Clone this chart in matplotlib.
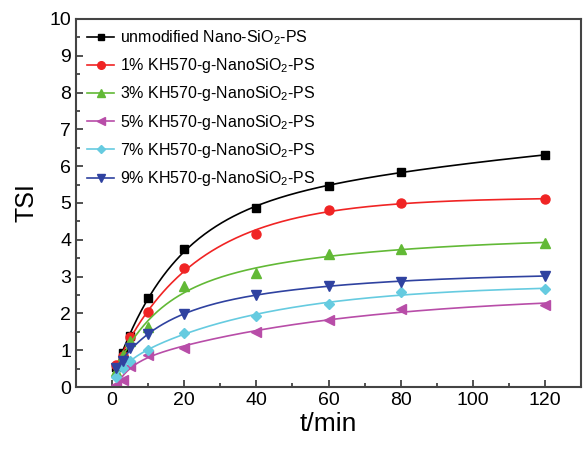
import numpy as np
import matplotlib
matplotlib.use('Agg')
import matplotlib.pyplot as plt
from matplotlib.ticker import MultipleLocator

plt.rcParams['font.family'] = ['Liberation Sans', 'DejaVu Sans']
plt.rcParams['mathtext.fontset'] = 'custom'
plt.rcParams['mathtext.rm'] = 'Liberation Sans'

t = np.array([1, 3, 5, 10, 20, 40, 60, 80, 120])

unmod = [0.55, 0.93, 1.38, 2.41, 3.75, 4.87, 5.47, 5.85, 6.30]
kh1 = [0.60, 0.85, 1.37, 2.03, 3.23, 4.17, 4.81, 5.00, 5.10]
kh3 = [0.44, 0.87, 1.25, 1.62, 2.74, 3.10, 3.61, 3.75, 3.91]
kh5 = [0.05, 0.19, 0.57, 0.86, 1.06, 1.49, 1.83, 2.12, 2.23]
kh7 = [0.27, 0.52, 0.71, 1.00, 1.47, 1.94, 2.26, 2.57, 2.66]
kh9 = [0.52, 0.70, 1.06, 1.43, 1.98, 2.50, 2.75, 2.86, 3.02]

labels = ['unmodified Nano-SiO$_2$-PS',
          '1% KH570-g-NanoSiO$_2$-PS',
          '3% KH570-g-NanoSiO$_2$-PS',
          '5% KH570-g-NanoSiO$_2$-PS',
          '7% KH570-g-NanoSiO$_2$-PS',
          '9% KH570-g-NanoSiO$_2$-PS']
series = [unmod, kh1, kh3, kh5, kh7, kh9]
colors = ['#000000', '#f02424', '#62b936', '#b84da8', '#66cbe0', '#2f42a0']
markers = ['s', 'o', '^', '<', 'D', 'v']
msizes = [5.5, 6.5, 6.5, 6.5, 5.5, 6.5]


def exp2_fit(x, y):
    # y = c0 + c1*(1-exp(-x/t1)) + c2*(1-exp(-x/t2)), grid over t1, t2
    best = None
    for t1 in np.linspace(1, 30, 60):
        for t2 in np.linspace(20, 300, 60):
            M = np.column_stack([np.ones(len(x)), 1 - np.exp(-x / t1),
                                 1 - np.exp(-x / t2)])
            coef = np.linalg.lstsq(M, y, rcond=None)[0]
            err = np.sum((M @ coef - y) ** 2)
            if best is None or err < best[0]:
                best = (err, t1, t2, coef)
    _, t1, t2, c = best
    return lambda z: c[0] + c[1] * (1 - np.exp(-z / t1)) + c[2] * (1 - np.exp(-z / t2))


fig, ax = plt.subplots(figsize=(5.84, 4.5), dpi=100)
fig.subplots_adjust(left=0.130, right=0.995, top=0.958, bottom=0.14)

tt = np.linspace(1, 120, 300)
for y, c, m, ms, lab in zip(series, colors, markers, msizes, labels):
    y = np.array(y)
    f = exp2_fit(t, y)
    yy = np.clip(f(tt), 0, None)
    ax.plot(tt, yy, color=c, lw=1.2)
    ax.plot(t, y, ls='none', marker=m, color=c, ms=ms)
    ax.plot([], [], color=c, marker=m, ms=ms - 1, lw=1.2, label=lab)

ax.set_xlim(-10, 130)
ax.set_ylim(0, 10)
ax.xaxis.set_major_locator(MultipleLocator(20))
ax.xaxis.set_minor_locator(MultipleLocator(10))
ax.yaxis.set_major_locator(MultipleLocator(1))
ax.yaxis.set_minor_locator(MultipleLocator(0.5))
ax.tick_params(which='both', direction='in', labelsize=14, color='#333333')
ax.tick_params(which='major', length=5, width=1.2)
ax.tick_params(which='minor', length=3, width=1.2)
for s in ax.spines.values():
    s.set_linewidth(1.5)
    s.set_color('#444444')

ax.set_xlabel('t/min', fontsize=19, labelpad=2)
ax.set_ylabel('TSI', fontsize=18, labelpad=8)

ax.legend(loc='upper left', bbox_to_anchor=(0.0, 1.005), frameon=False,
          fontsize=11.5, handlelength=1.7, handletextpad=0.35,
          labelspacing=0.58, borderaxespad=0.3)

fig.savefig('out.png', dpi=100)
